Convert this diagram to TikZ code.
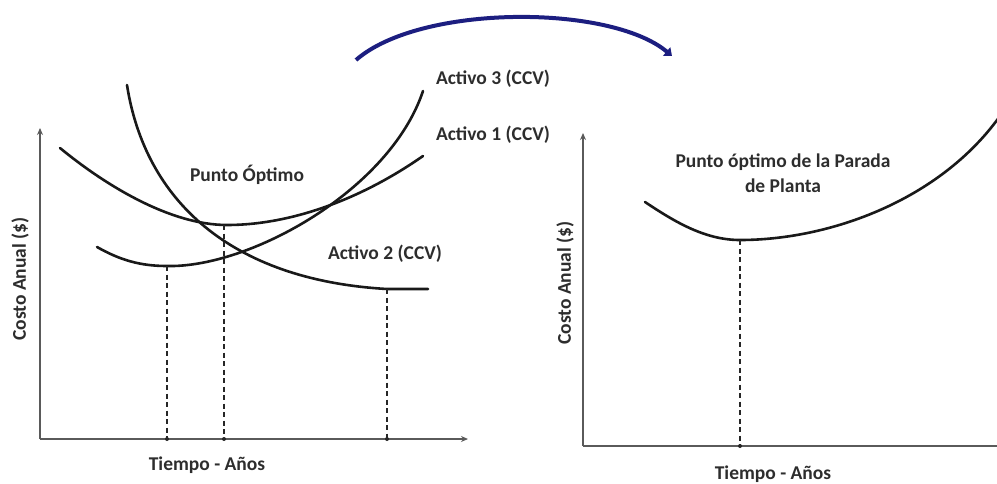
\documentclass[tikz,border=0pt]{standalone}
\usepackage{fontspec}
\setmainfont{Carlito}
\usetikzlibrary{arrows.meta}
\definecolor{navyarc}{RGB}{28,30,128}
\definecolor{axisgray}{RGB}{90,90,90}
\definecolor{labelgray}{RGB}{45,45,45}
\begin{document}
\begin{tikzpicture}[x=1pt,y=-1pt,
  lbl/.style={font=\fontsize{19.5}{22}\selectfont\bfseries, text=labelgray, inner sep=0pt, align=center},
  axisline/.style={draw=axisgray, line width=1.8pt, -{Stealth[length=7pt,width=6pt]}},
  costcurve/.style={draw=black!90, line width=2.6pt, line cap=round},
  guide/.style={draw=black!85, line width=1.5pt, dash pattern=on 5pt off 3.5pt},
  switcharrow/.style={draw=navyarc, line width=4pt, -{Triangle[length=7pt,width=11pt]}}
]
\useasboundingbox (0,0) rectangle (997,483);

% ---------------- left chart: axes ----------------
\coordinate (Lo) at (40,439);
\coordinate (Ly) at (40,128);
\coordinate (Lx) at (468,439);
\draw[axisline] (Lo) -- (Ly);
\draw[axisline] (Lo) -- (Lx);

% minima of the three cost curves
\coordinate (Lm1) at (167,266);
\coordinate (Lm2) at (227,225);
\coordinate (Lm3) at (387,289);

% Activo 1
\draw[costcurve] (60,148) .. controls (105,185) and (170,225) .. (Lm2)
                 .. controls (290,225) and (360,200) .. (423,156);
% Activo 3
\draw[costcurve] (97,247) .. controls (120,260) and (140,266) .. (Lm1)
                 .. controls (250,268) and (390,190) .. (423,91);
% Activo 2
\draw[costcurve] (127,85) .. controls (145,200) and (230,280) .. (Lm3) -- (428,289);

% optimum guides
\coordinate (Lb1) at (167,439);
\coordinate (Lb2) at (224,439);
\coordinate (Lg2) at (224,225);
\coordinate (Lb3) at (387,439);
\draw[guide] (Lm1) -- (Lb1);
\draw[guide] (Lg2) -- (Lb2);
\draw[guide] (Lm3) -- (Lb3);
\fill[black!85] (Lb1) circle (2pt) (Lb2) circle (2pt) (Lb3) circle (2pt);

% labels
\node[lbl] (a3) at (493,79) {Activo 3 (CCV)};
\node[lbl] (a1) at (493,135) {Activo 1 (CCV)};
\node[lbl] (a2) at (385,254) {Activo 2 (CCV)};
\node[lbl] (po) at (247,175) {Punto Óptimo};
\node[lbl, rotate=90] (ly) at (20,279) {Costo Anual (\$)};
\node[lbl] (lx) at (207,465) {Tiempo - Años};

% ---------------- right chart ----------------
\coordinate (Ro) at (583,446);
\coordinate (Ry) at (583,133);
\coordinate (Rx) at (1004,446);
\draw[axisline] (Ro) -- (Ry);
\draw[axisline] (Ro) -- (Rx);

\coordinate (Rm) at (740,240);
\draw[costcurve] (645,202) .. controls (675,222) and (705,240) .. (Rm)
                 .. controls (830,240) and (940,200) .. (1000,116);

\coordinate (Rb) at (740,446);
\draw[guide] (Rm) -- (Rb);
\fill[black!85] (Rb) circle (2pt);

\node[lbl] (pp) at (783,173) {Punto óptimo de la Parada\\[3pt]de Planta};
\node[lbl, rotate=90] (ry) at (565,283) {Costo Anual (\$)};
\node[lbl] (rx) at (773,474) {Tiempo - Años};

% ---------------- transition arrow ----------------
\coordinate (arcL) at (356,60);
\coordinate (arcR) at (672,56);
\draw[switcharrow] (arcL) .. controls (420,4) and (610,4) .. (arcR);
\end{tikzpicture}
\end{document}
